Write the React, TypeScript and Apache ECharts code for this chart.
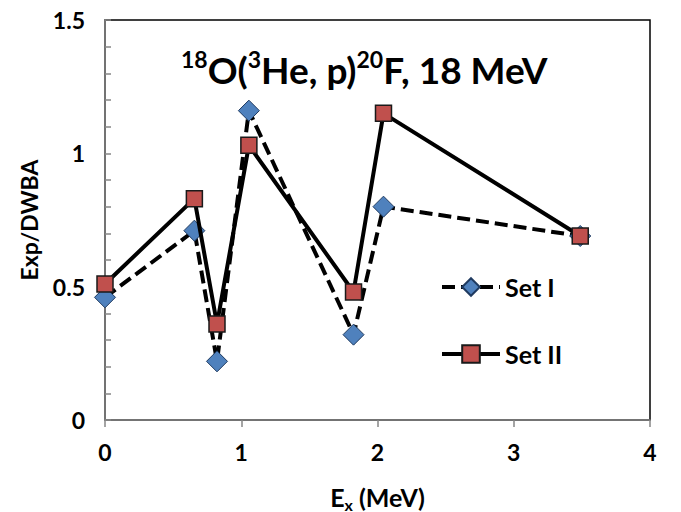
import React, { useEffect, useRef } from "react";
import * as echarts from "echarts";

const energies = [0, 0.656, 0.822, 1.056, 1.824, 2.044, 3.488];
const setI = [0.46, 0.71, 0.22, 1.16, 0.32, 0.8, 0.69];
const setII = [0.51, 0.83, 0.36, 1.03, 0.48, 1.15, 0.69];
const xTicks = [0, 1, 2, 3, 4];
const yTickLabels = [0, 0.5, 1, 1.5];
const seriesNames = ["Set I", "Set II"];

const FONT = "Lato, 'Liberation Sans', sans-serif";

export default function App() {
  const ref = useRef<HTMLDivElement>(null);
  useEffect(() => {
    if (!ref.current) return;
    const chart = echarts.init(ref.current, undefined, { renderer: "svg" });
    const pairs = (ys: number[]) => energies.map((x, i) => [x, ys[i]]);
    chart.setOption({
      animation: false,
      backgroundColor: "#fff",
      textStyle: { fontFamily: FONT },
      title: {
        left: 181,
        top: 47,
        padding: 0,
        text: "{sup|18}{b|O(}{sup|3}{b|He, p)}{sup|20}{b|F, 18 MeV}",
        textStyle: {
          rich: {
            b: { fontSize: 37, fontWeight: "bold", fontFamily: FONT, color: "#000" },
            sup: { fontSize: 23, fontWeight: "bold", fontFamily: FONT, color: "#000", padding: [0, 0, 22, 0] },
          },
        },
      },
      grid: {
        left: 105,
        right: 31,
        top: 20,
        bottom: 92,
        show: true,
        borderColor: "#000",
        borderWidth: 1.5,
        outerBoundsMode: "none",
        containLabel: false,
      },
      legend: {
        orient: "vertical",
        left: 440,
        top: 272,
        padding: 0,
        itemWidth: 58,
        itemHeight: 22,
        itemGap: 37,
        data: seriesNames,
        lineStyle: { width: 4 },
        textStyle: { fontSize: 25, fontWeight: "bold", color: "#000", fontFamily: FONT, lineHeight: 30 },
      },
      xAxis: {
        type: "value",
        min: 0,
        max: 4,
        interval: 1,
        name: "E{sub|x} (MeV)",
        nameLocation: "middle",
        nameGap: 62,
        nameTextStyle: {
          rich: {
            sub: { fontSize: 16, fontWeight: "bold", color: "#000", fontFamily: FONT, padding: [14, 0, 0, 0] },
          },
          fontSize: 25,
          fontWeight: "bold",
          color: "#000",
        },
        axisLine: { lineStyle: { color: "#868686", width: 1.5 } },
        axisTick: { show: true, inside: false, length: 7, lineStyle: { color: "#868686", width: 1.5 } },
        splitLine: { show: false },
        axisLabel: {
          fontSize: 23,
          fontWeight: "bold",
          color: "#000",
          margin: 20,
          formatter: (v: number) => (xTicks.includes(v) ? String(v) : ""),
        },
      },
      yAxis: {
        type: "value",
        min: 0,
        max: 1.5,
        interval: 0.1,
        name: "Exp/DWBA",
        nameLocation: "middle",
        nameGap: 65,
        nameTextStyle: { fontSize: 23, fontWeight: "bold", color: "#000" },
        axisLine: { show: true, lineStyle: { color: "#868686", width: 1.5 } },
        axisTick: { show: true, inside: true, length: 6, lineStyle: { color: "#868686", width: 1.5 } },
        splitLine: { show: false },
        axisLabel: {
          fontSize: 23,
          fontWeight: "bold",
          color: "#000",
          margin: 20,
          formatter: (v: number) => {
            const r = Math.round(v * 10) / 10;
            return yTickLabels.some((t) => Math.abs(t - r) < 1e-6) ? String(r) : "";
          },
        },
      },
      series: [
        {
          name: seriesNames[0],
          type: "line",
          data: pairs(setI),
          symbol: "diamond",
          symbolSize: 21,
          itemStyle: { color: "#4F81BD", borderColor: "#1F3A60", borderWidth: 1 },
          lineStyle: { color: "#000", width: 4, type: [13, 6] },
          z: 2,
        },
        {
          name: seriesNames[1],
          type: "line",
          data: pairs(setII),
          symbol: "rect",
          symbolSize: 16,
          itemStyle: { color: "#C0504D", borderColor: "#1a1a1a", borderWidth: 1.5 },
          lineStyle: { color: "#000", width: 4, type: "solid" },
          z: 3,
        },
      ],
    });
    return () => chart.dispose();
  }, []);
  return (
    <div
      ref={ref}
      style={{ position: "fixed", left: 0, top: 0, width: 681, height: 512 }}
    />
  );
}
